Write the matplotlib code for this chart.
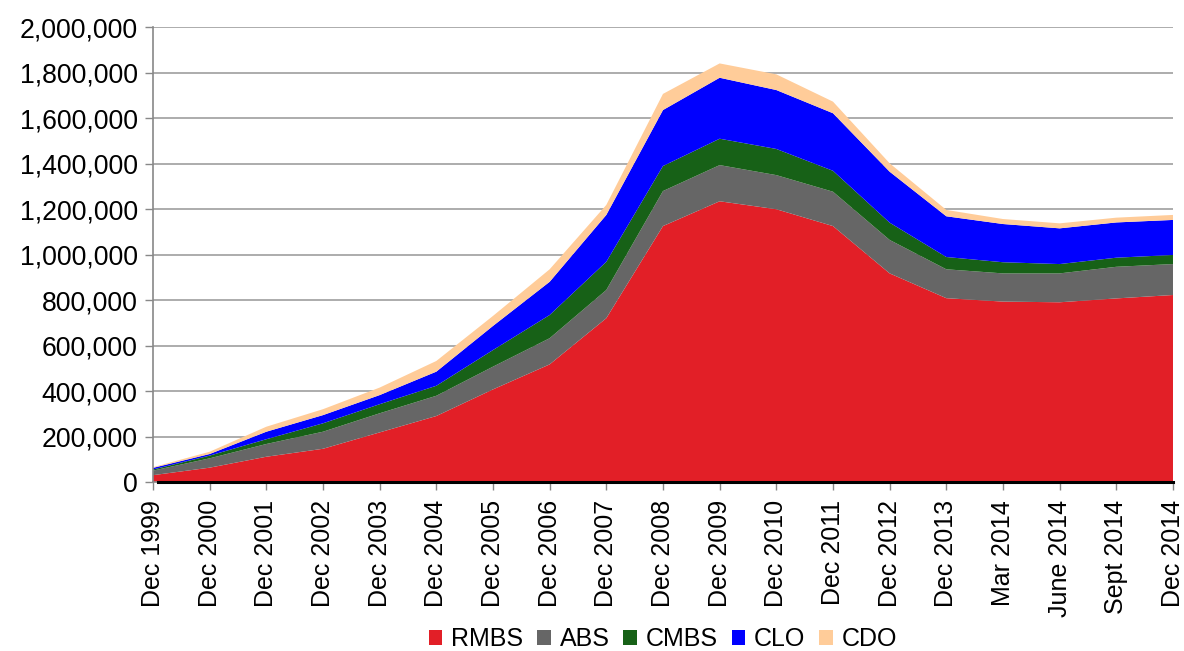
import numpy as np
import matplotlib
matplotlib.use('Agg')
import matplotlib.pyplot as plt
from matplotlib.ticker import FuncFormatter
from matplotlib.patches import Patch

plt.rcParams['font.family'] = ['Liberation Sans', 'DejaVu Sans']

periods = ['Dec 1999', 'Dec 2000', 'Dec 2001', 'Dec 2002', 'Dec 2003', 'Dec 2004',
           'Dec 2005', 'Dec 2006', 'Dec 2007', 'Dec 2008', 'Dec 2009', 'Dec 2010',
           'Dec 2011', 'Dec 2012', 'Dec 2013', 'Mar 2014', 'June 2014', 'Sept 2014',
           'Dec 2014']

# 读图估计的数值
rmbs = [30000, 63000, 111000, 146000, 218000, 290000, 407000, 517000, 720000, 1125000,
        1234000, 1199000, 1125000, 917000, 808000, 793000, 790000, 807000, 822000]
abs_ = [20000, 41000, 56000, 75000, 84000, 89000, 100000, 115000, 124000, 154000,
        159000, 150000, 151000, 147000, 127000, 124000, 127000, 139000, 136000]
cmbs = [5000, 12000, 21000, 37000, 40000, 44000, 73000, 102000, 124000, 110000,
        116000, 115000, 92000, 76000, 54000, 49000, 41000, 40000, 40000]
clo = [7000, 7000, 33000, 36000, 40000, 62000, 106000, 146000, 206000, 246000,
       268000, 259000, 253000, 224000, 179000, 168000, 157000, 155000, 154000]
cdo = [3000, 10000, 22000, 26000, 33000, 47000, 44000, 55000, 44000, 71000,
       63000, 69000, 51000, 37000, 28000, 22000, 22000, 21000, 22000]

names = ['RMBS', 'ABS', 'CMBS', 'CLO', 'CDO']
colors = ['#E21F27', '#666666', '#176117', '#0000FF', '#FFCC99']

fig = plt.figure(figsize=(11.84, 6.51), dpi=100)
ax = fig.add_axes([0.1292, 0.2596, 0.8615, 0.6989])

x = np.arange(len(periods))
ax.stackplot(x, rmbs, abs_, cmbs, clo, cdo, colors=colors, linewidth=0, zorder=2)

ax.set_xlim(0, len(periods) - 1)
ax.set_ylim(0, 2000000)
ax.set_yticks(np.arange(0, 2000001, 200000))
ax.yaxis.set_major_formatter(FuncFormatter(lambda v, p: '{:,.0f}'.format(v)))
ax.set_xticks(x)
ax.set_xticklabels(periods, rotation=90)
ax.tick_params(axis='both', color='#888888', length=6, width=1)
ax.tick_params(axis='y', labelsize=19.2, pad=5)
ax.tick_params(axis='x', labelsize=18, pad=7)

ax.grid(axis='y', color='#A6A6A6', linewidth=1.3, zorder=1)
ax.set_axisbelow(True)
for s in ['top', 'right']:
    ax.spines[s].set_visible(False)
ax.spines['left'].set_color('#888888')
ax.spines['left'].set_linewidth(1.2)
ax.spines['bottom'].set_color('#888888')
ax.spines['bottom'].set_linewidth(1.2)
ax.axhline(0, xmin=0.005, xmax=1, color='black', linewidth=2.2, zorder=4, clip_on=False)

handles = [Patch(facecolor=c, edgecolor='none') for c in colors]
fig.legend(handles, names, loc='center', bbox_to_anchor=(0.56, 0.018), ncol=5,
           frameon=False, fontsize=18, handlelength=0.55, handleheight=0.55,
           handletextpad=0.35, columnspacing=0.55, borderaxespad=0)

fig.savefig('out.png', dpi=100)
